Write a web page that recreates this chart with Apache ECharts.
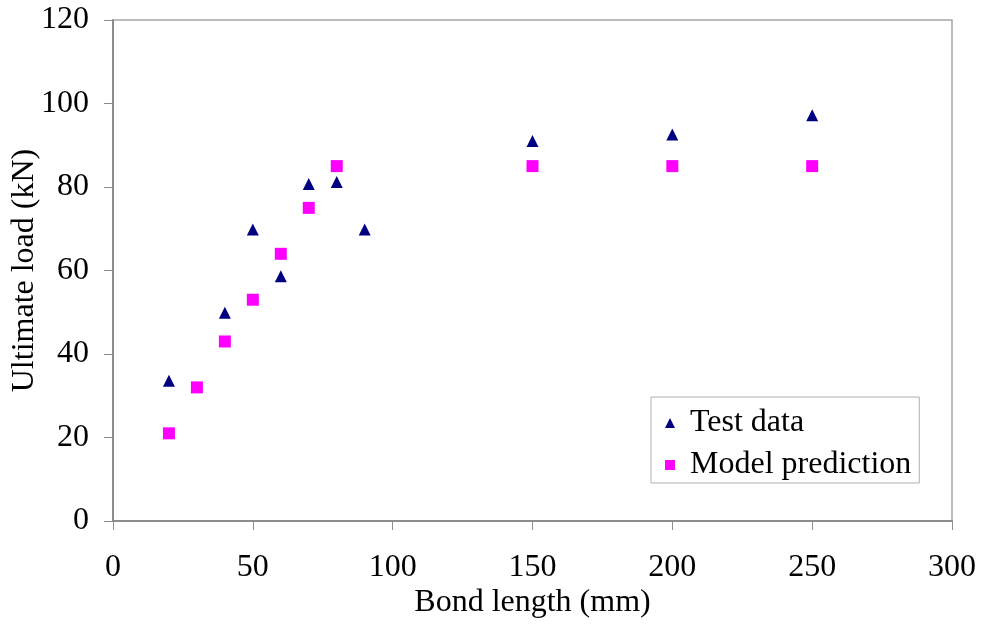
<!DOCTYPE html>
<html>
<head>
<meta charset="utf-8">
<script src="https://cdn.jsdelivr.net/npm/echarts@6/dist/echarts.min.js"></script>
<style>
html,body{margin:0;padding:0;background:#fff;}
#chart{width:982px;height:625px;}
</style>
</head>
<body>
<div id="chart"></div>
<script>
// Data
const testX = [20, 40, 50, 60, 70, 80, 90, 150, 200, 250];
const testY = [33.6, 49.9, 69.8, 58.6, 80.7, 81.2, 69.8, 91, 92.6, 97.2];
const modelX = [20, 30, 40, 50, 60, 70, 80, 150, 200, 250];
const modelY = [21, 32, 43, 53, 64, 75, 85, 85, 85, 85];
const seriesNames = ['Test data', 'Model prediction'];
const xAxisName = 'Bond length (mm)';
const yAxisName = 'Ultimate load (kN)';

const FONT = '"Liberation Serif", "Times New Roman", serif';
const FS = 32;

const chart = echarts.init(document.getElementById('chart'), null, {renderer: 'canvas'});
chart.setOption({
  backgroundColor: '#fff',
  animation: false,
  grid: {
    left: 113, top: 20, width: 839, height: 501,
    containLabel: false, outerBoundsMode: 'none',
    show: true, borderColor: '#a6a6a6', borderWidth: 1.5, backgroundColor: 'transparent'
  },
  legend: {
    orient: 'vertical',
    left: 651, top: 397,
    padding: [10, 8, 2, 14],
    itemGap: 10,
    itemWidth: 10, itemHeight: 10,
    symbolKeepAspect: true,
    borderColor: '#b0b0b0', borderWidth: 1,
    backgroundColor: '#fff',
    textStyle: {fontFamily: FONT, fontSize: FS, color: '#000', lineHeight: 32, padding: [0, 0, 0, 10]},
    data: seriesNames
  },
  xAxis: {
    type: 'value', min: 0, max: 300, interval: 50,
    name: xAxisName, nameLocation: 'middle', nameGap: 66, nameMoveOverlap: false,
    nameTextStyle: {fontFamily: FONT, fontSize: FS, color: '#000'},
    axisLine: {show: true, onZero: false, lineStyle: {color: '#8c8c8c', width: 2}},
    axisTick: {show: true, inside: false, length: 9, lineStyle: {color: '#8c8c8c', width: 1}},
    axisLabel: {fontFamily: FONT, fontSize: FS, color: '#000', margin: 31},
    splitLine: {show: false}
  },
  yAxis: {
    type: 'value', min: 0, max: 120, interval: 20,
    name: yAxisName, nameLocation: 'middle', nameGap: 72, nameRotate: 90, nameMoveOverlap: false,
    nameTextStyle: {fontFamily: FONT, fontSize: FS, color: '#000'},
    axisLine: {show: true, onZero: false, lineStyle: {color: '#8c8c8c', width: 2}},
    axisTick: {show: true, inside: false, length: 9, lineStyle: {color: '#8c8c8c', width: 1}},
    axisLabel: {fontFamily: FONT, fontSize: FS, color: '#000', margin: 24},
    splitLine: {show: false}
  },
  series: [
    {
      name: seriesNames[0], type: 'scatter', symbol: 'triangle', symbolSize: 12,
      itemStyle: {color: '#000080', opacity: 1},
      data: testX.map((x, i) => [x, testY[i]])
    },
    {
      name: seriesNames[1], type: 'scatter', symbol: 'rect', symbolSize: 12,
      itemStyle: {color: '#ff00ff', opacity: 1},
      data: modelX.map((x, i) => [x, modelY[i]])
    }
  ]
});
</script>
</body>
</html>
